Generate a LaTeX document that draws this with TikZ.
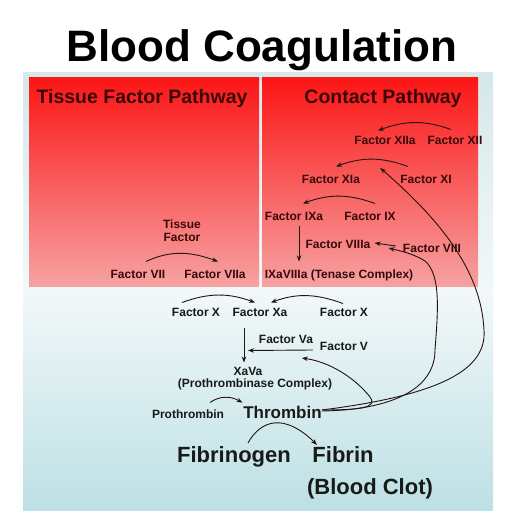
\documentclass[tikz,border=0pt]{standalone}
\usepackage{fontspec}
\setmainfont{Liberation Sans}
\usepackage{tikz}
\usetikzlibrary{arrows.meta,positioning,calc}
\usepackage{xcolor}

\definecolor{redtop}{RGB}{252,22,22}
\definecolor{redbot}{RGB}{246,162,162}
\definecolor{redtext}{RGB}{58,8,8}
\definecolor{lowtext}{RGB}{25,25,25}
\definecolor{arrcol}{RGB}{35,20,20}
\definecolor{paneltop}{RGB}{214,232,234}
\definecolor{panelmid}{RGB}{242,248,249}
\definecolor{panelbot}{RGB}{188,224,228}

\tikzset{
  fac/.style={font=\bfseries\fontsize{12}{14}\selectfont, text=redtext, inner sep=0pt, text height=8.6pt, text depth=0pt},
  low/.style={fac, text=lowtext},
  head/.style={font=\bfseries\fontsize{19.5}{22}\selectfont, text=redtext, inner sep=0pt, text height=14pt, text depth=0pt},
  big/.style={font=\bfseries\fontsize{22}{26}\selectfont, text=lowtext, inner sep=0pt, text height=15.8pt, text depth=0pt},
  arr/.style={-{Stealth[length=6pt,width=4.5pt]}, line width=0.9pt, draw=arrcol},
}

\begin{document}
\begin{tikzpicture}[x=1pt,y=1pt]
    \useasboundingbox (0,0) rectangle (530,530);
    \fill[white] (0,0) rectangle (530,530);

    % Panels
    \shade[top color=paneltop, bottom color=panelbot, middle color=panelmid] (23,19) rectangle (493,457);
    \shade[top color=redtop, bottom color=redbot] (29,243) rectangle (259,452);
    \shade[top color=redtop, bottom color=redbot] (262,243) rectangle (478,452);

    % Title and headers
    \node[font=\bfseries\fontsize{44}{50}\selectfont, inner sep=0pt, text height=31.5pt, text depth=0pt] (title) at (262,484.5) {Blood Coagulation};
    \node[head] (tfpath) at (142,433) {Tissue Factor Pathway};
    \node[head] (cpath) at (383,433) {Contact Pathway};

    % Tissue factor pathway
    \node[fac, align=center, text height=, text depth=, anchor=north, font=\bfseries\fontsize{12}{13}\selectfont] (tissue) at (182,310.5) {Tissue\\Factor};
    \node[fac] (fVII) at (138,256) {Factor VII};
    \node[fac] (fVIIa) at (215,256) {Factor VIIa};
    \draw[arr] ([xshift=8pt,yshift=8pt]fVII.north) to[out=25,in=160] ([xshift=3pt,yshift=8pt]fVIIa.north);

    % Contact pathway
    \node[fac] (fXIIa) at (385,390) {Factor XIIa};
    \node[fac] (fXII) at (455,390) {Factor XII};
    \node[fac] (fXIa) at (331,351) {Factor XIa};
    \node[fac] (fXI) at (426,351) {Factor XI};
    \node[fac] (fIXa) at (294,314) {Factor IXa};
    \node[fac] (fIX) at (370,314) {Factor IX};
    \node[fac] (fVIIIa) at (338,286) {Factor VIIIa};
    \node[fac] (fVIII) at (432,282) {Factor VIII};
    \node[fac] (tenase) at (339,256) {IXaVIIIa (Tenase Complex)};
    \draw[arr] ([xshift=-4pt,yshift=6pt]fXII.north) to[out=160,in=20] ([xshift=-7pt,yshift=5pt]fXIIa.north);
    \draw[arr] ([xshift=-18pt,yshift=8pt]fXI.north) to[out=160,in=20] ([xshift=5pt,yshift=8pt]fXIa.north);
    \draw[arr] ([xshift=5pt,yshift=8pt]fIX.north) to[out=160,in=20] ([xshift=9pt,yshift=8pt]fIXa.north);
    \draw[arr] ([xshift=5pt,yshift=-6pt]fIXa.south) -- ([xshift=-40pt,yshift=8pt]tenase.north);
    \draw[arr] ([xshift=-7pt,yshift=2pt]fVIII.west) -- ([xshift=4pt,yshift=1pt]fVIIIa.east);

    % Common pathway
    \node[low] (fXl) at (196,218) {Factor X};
    \node[low] (fXa) at (260,218) {Factor Xa};
    \node[low] (fXr) at (344,218) {Factor X};
    \node[low] (fVa) at (286,191) {Factor Va};
    \node[low] (fV) at (344,184) {Factor V};
    \node[low] (xava) at (248,159) {XaVa};
    \node[low] (prothcx) at (255,147) {(Prothrombinase Complex)};
    \draw[arr] ([xshift=-14pt,yshift=5pt]fXl.north) to[out=20,in=160] ([xshift=-5pt,yshift=5pt]fXa.north);
    \draw[arr] ([xshift=-1pt,yshift=4pt]fXr.north) to[out=160,in=20] ([xshift=11pt,yshift=5pt]fXa.north);
    \draw[arr] ([xshift=-16pt,yshift=-12pt]fXa.south) -- ([xshift=-4pt,yshift=4pt]xava.north);
    \draw[arr] ([xshift=-7pt,yshift=-4pt]fV.west) -- ([xshift=-38pt,yshift=-7pt]fVa.south);

    % Thrombin and fibrin
    \node[low] (proth) at (188,116) {Prothrombin};
    \node[low, font=\bfseries\fontsize{17}{20}\selectfont, text height=12.2pt] (thromb) at (282.5,118) {Thrombin};
    \node[big] (fibrinogen) at (234,75) {Fibrinogen};
    \node[big] (fibrin) at (343,75) {Fibrin};
    \node[big] (clot) at (370,43) {(Blood Clot)};
    \draw[arr] ([xshift=22pt,yshift=7pt]proth.north) to[out=35,in=150] ([xshift=-40pt,yshift=3pt]thromb.north);
    \draw[arr] ([xshift=14pt,yshift=4pt]fibrinogen.north) to[out=60,in=135,looseness=1.3] ([xshift=-26pt,yshift=2pt]fibrin.north);

    % Thrombin feedback
    \draw[arr] ([yshift=2pt]thromb.east) .. controls (440,135) and (487,160) .. (484,200)
        .. controls (481,260) and (440,310) .. ([xshift=20pt,yshift=11pt]fXIa.east);
    \draw[arr] ([yshift=1pt]thromb.east) .. controls (390,120) and (435,140) .. (435,180)
        .. controls (438,220) and (441,255) .. (425,269)
        .. controls (412,277) and (400,279) .. ([xshift=18pt,yshift=-4pt]fVIIIa.east);
    \draw[arr] ([yshift=2pt]thromb.east) .. controls (360,120) and (378,122) .. (370,133)
        .. controls (355,152) and (330,168) .. ([xshift=-18pt,yshift=-12pt]fV.west);
\end{tikzpicture}
\end{document}
